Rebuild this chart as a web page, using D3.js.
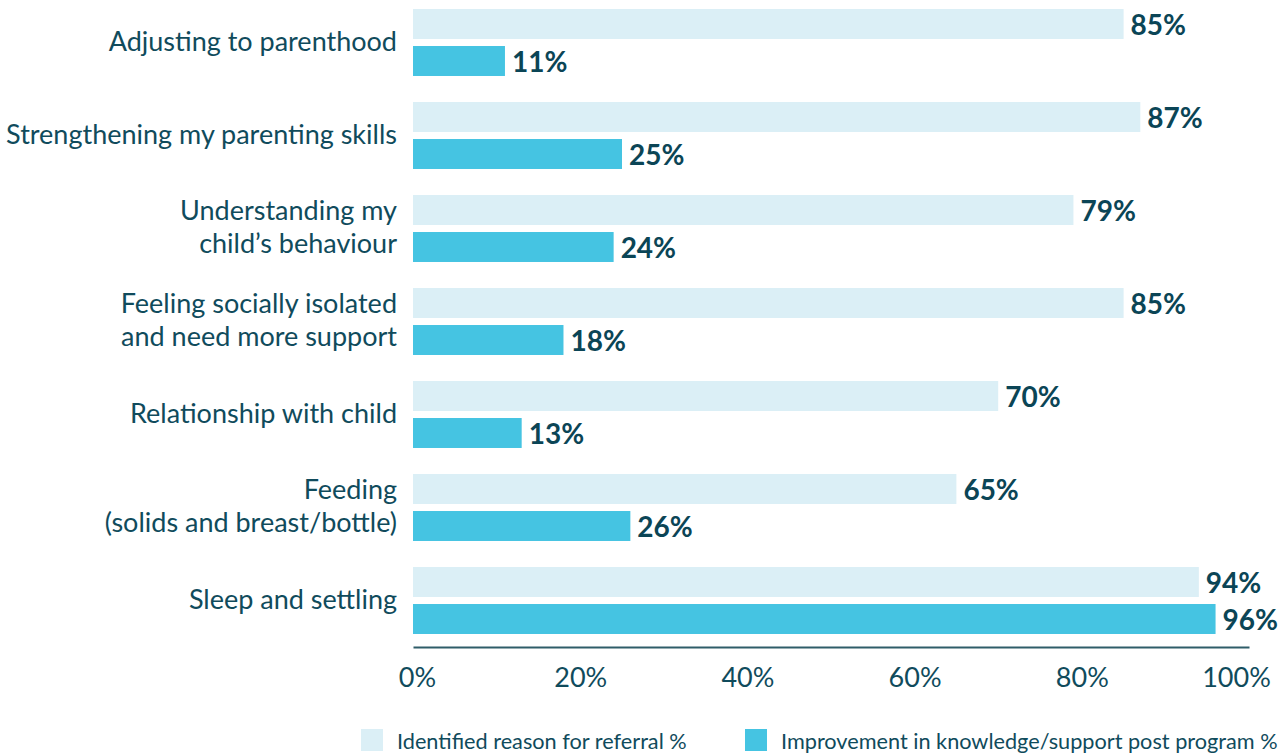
<!DOCTYPE html>
<html>
<head>
<meta charset="utf-8">
<script src="https://cdn.jsdelivr.net/npm/d3@7"></script>
<style>
  body { margin: 0; background: #fff; }
  text { font-family: Lato, "Open Sans", sans-serif; }
</style>
</head>
<body>
<div class="chart"></div>
<script>
var categories = [
    ["Adjusting to parenthood"],
    ["Strengthening my parenting skills"],
    ["Understanding my", "child\u2019s behaviour"],
    ["Feeling socially isolated", "and need more support"],
    ["Relationship with child"],
    ["Feeding", "(solids and breast/bottle)"],
    ["Sleep and settling"]
];
var referral = [85, 87, 79, 85, 70, 65, 94];
var improvement = [11, 25, 24, 18, 13, 26, 96];
var seriesNames = ["Identified reason for referral %", "Improvement in knowledge/support post program %"];
var tickValues = [0, 20, 40, 60, 80, 100];

var svgWidth = 1285;
var svgHeight = 755;
var textColor = "#104b5c";
var colors = ["#dbeff6", "#45c4e2"];

var svg = d3.select(".chart")
    .append("svg")
    .attr("width", svgWidth)
    .attr("height", svgHeight);

var x = d3.scaleLinear()
    .domain([0, 100])
    .range([413, 1249]);

var y = d3.scaleBand()
    .domain(d3.range(categories.length))
    .range([-4, 647])
    .paddingInner(0.28)
    .paddingOuter(0.14);

var ySub = d3.scaleBand()
    .domain([0, 1])
    .range([0, y.bandwidth()])
    .paddingInner(0.19);

var rows = categories.map(function(c, i) {
    return { label: c, values: [referral[i], improvement[i]], i: i };
});

var groups = svg.selectAll(".group")
    .data(rows)
    .enter()
    .append("g")
    .attr("class", "group")
    .attr("transform", d => `translate(0, ${y(d.i)})`);

groups.selectAll("rect")
    .data(d => d.values.map((v, k) => ({ v: v, k: k })))
    .enter()
    .append("rect")
    .attr("x", x(0))
    .attr("y", d => ySub(d.k))
    .attr("width", d => x(d.v) - x(0))
    .attr("height", ySub.bandwidth())
    .attr("fill", d => colors[d.k]);

groups.selectAll(".val")
    .data(d => d.values.map((v, k) => ({ v: v, k: k })))
    .enter()
    .append("text")
    .attr("class", "val")
    .attr("x", d => x(d.v) + 7)
    .attr("y", d => ySub(d.k) + ySub.bandwidth() / 2)
    .attr("dy", "0.38em")
    .attr("font-size", "28px")
    .attr("font-weight", "bold")
    .attr("fill", "#0b4556")
    .text(d => d.v + "%");

// category labels
groups.append("text")
    .attr("text-anchor", "end")
    .attr("font-size", "27px")
    .attr("fill", textColor)
    .each(function(d) {
        var t = d3.select(this);
        var n = d.label.length;
        d.label.forEach(function(line, j) {
            t.append("tspan")
                .attr("x", 397)
                .attr("y", y.bandwidth() / 2 - 1 + (j - (n - 1) / 2) * 33)
                .attr("dy", "0.35em")
                .text(line);
        });
    });

// x axis
var axis = svg.append("g")
    .attr("transform", "translate(0, 647)")
    .call(d3.axisBottom(x).tickValues(tickValues).tickSize(0).tickPadding(21).tickFormat(d => d + "%"));

axis.select(".domain")
    .attr("stroke", "#2f5d69")
    .attr("stroke-width", 2);

axis.selectAll(".tick text")
    .attr("font-family", "Lato, sans-serif")
    .attr("font-size", "27px")
    .attr("fill", textColor)
    .attr("dx", d => d === 0 ? 4 : (d === 100 ? -13 : 0));

// legend
var legendX = [361, 745];
var legend = svg.selectAll(".legend")
    .data(seriesNames)
    .enter()
    .append("g")
    .attr("class", "legend")
    .attr("transform", (d, i) => `translate(${legendX[i]}, 729)`);

legend.append("rect")
    .attr("width", 22)
    .attr("height", 22)
    .attr("fill", (d, i) => colors[i]);

legend.append("text")
    .attr("x", 36)
    .attr("y", 12)
    .attr("dy", "0.35em")
    .attr("font-size", "21.7px")
    .attr("fill", textColor)
    .text(d => d);
</script>
</body>
</html>
